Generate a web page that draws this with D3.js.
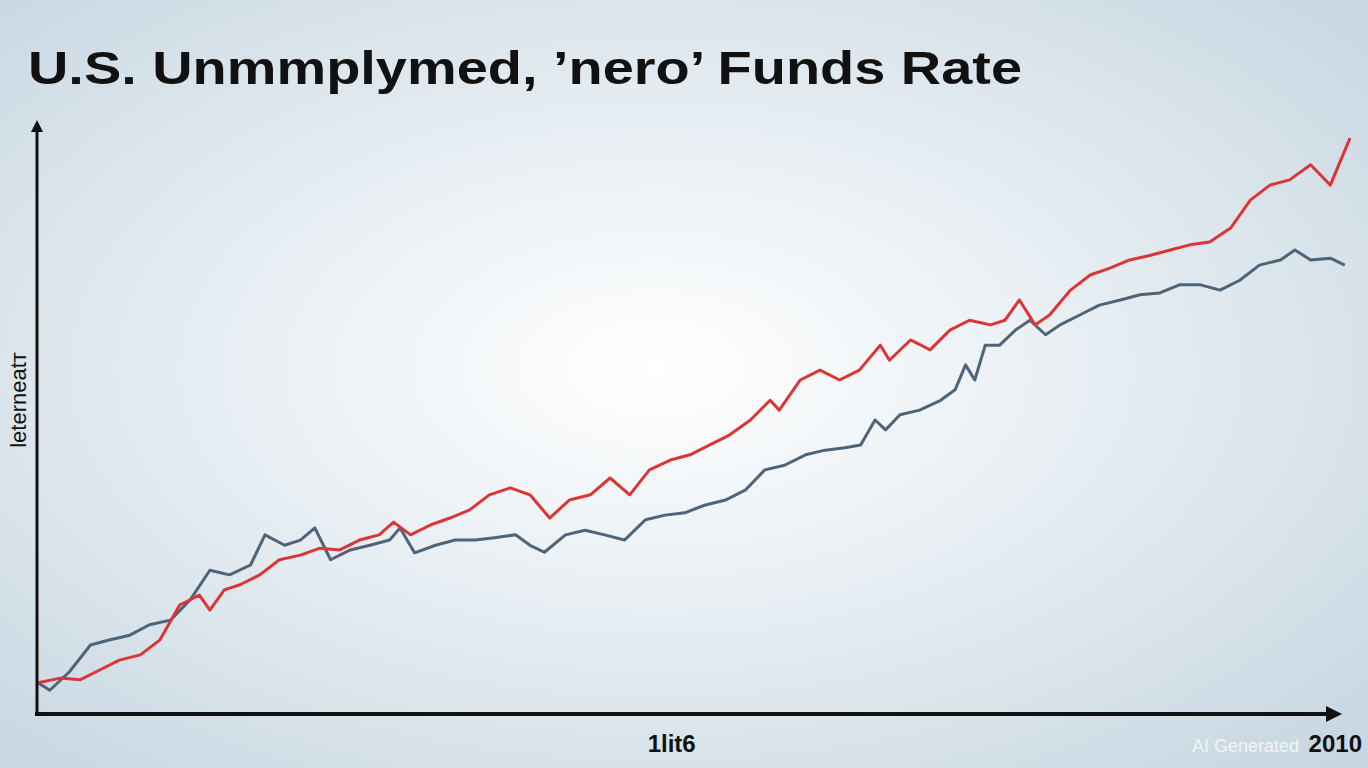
<!DOCTYPE html>
<html><head><meta charset="utf-8">
<script src="https://cdn.jsdelivr.net/npm/d3@7"></script>
<style>body{margin:0;overflow:hidden}</style>
</head><body>
<div id="chart"></div>
<script>
var width = 1368, height = 768;

// time index (0..100) and values (0..100)
var redT = [0,1.7,3.2,4.7,6.2,7.8,9.3,10.8,12.3,13.1,14.2,15.4,16.9,18.4,20,21.5,23,24.5,26,27.1,28.4,29.9,31.4,32.9,34.4,36,37.5,39,40.5,42.1,43.6,45.1,46.6,48.2,49.7,51.2,52.7,54.3,55.8,56.5,58.1,59.6,61.1,62.6,64.2,64.9,66.5,68,69.5,71,72.6,73.7,74.8,76,77.1,78.7,80.2,81.7,83.2,84.8,86.3,87.8,89.3,90.9,92.4,93.9,95.4,97,98.5,100];
var redV = [4.7,5.5,5.2,6.9,8.6,9.5,12.1,18.1,19.8,17.2,20.7,21.6,23.3,25.9,26.7,27.9,27.6,29.3,30.2,32.4,30.2,31.9,33.1,34.5,37.1,38.3,37.1,33.1,36.2,37.1,40,37.1,41.4,43.1,44,45.7,47.4,50,53.4,51.7,56.9,58.6,56.9,58.6,62.9,60.3,63.8,62.1,65.5,67.2,66.4,67.2,70.7,66.4,68.1,72.4,75,76.2,77.6,78.4,79.3,80.2,80.7,83.1,87.9,90.5,91.4,94,90.5,98.6];
var blueT = [0,0.9,2.4,4,5.5,7,8.5,10.1,11.6,13.1,14.6,16.2,17.3,18.8,20,21.1,22.3,23.8,25.3,26.8,27.6,28.7,30.3,31.8,33.3,34.8,36.4,37.5,38.6,40.2,41.7,43.2,44.7,46.3,47.8,49.3,50.8,52.4,53.9,55.4,56.9,58.5,60,61.5,62.7,63.8,64.6,65.7,67.2,68.8,69.9,70.7,71.4,72.2,73.3,74.5,75.6,76.8,77.9,79.4,80.9,82.5,84,85.5,87,88.6,90.1,91.6,93.1,94.7,95.8,97,98.5,99.6];
var blueV = [4.7,3.4,6.6,11.2,12.1,12.9,14.7,15.5,19,24.1,23.3,25,30.2,28.4,29.3,31.4,25.9,27.6,28.4,29.3,31.4,27.1,28.4,29.3,29.3,29.7,30.2,28.4,27.2,30.2,31,30.2,29.3,32.8,33.6,34,35.3,36.2,37.9,41.4,42.2,44,44.8,45.2,45.7,50,48.3,50.9,51.7,53.4,55.2,59.5,56.9,62.9,62.9,65.5,67.2,64.7,66.4,68.1,69.8,70.7,71.6,71.9,73.3,73.3,72.4,74.1,76.7,77.6,79.3,77.6,77.9,76.7];
var xTicks = [{t:48.3, label:"1lit6"}, {t:100, label:"2010"}];

var svg = d3.select("#chart").append("svg")
    .attr("width", width).attr("height", height);

var defs = svg.append("defs");
var grad = defs.append("radialGradient").attr("id", "bg")
    .attr("cx", "48%").attr("cy", "48%").attr("r", "75%");
grad.append("stop").attr("offset", "0%").attr("stop-color", "#ffffff");
grad.append("stop").attr("offset", "45%").attr("stop-color", "#e6edf2");
grad.append("stop").attr("offset", "100%").attr("stop-color", "#c4d4df");
var mk = defs.append("marker").attr("id", "arrow").attr("viewBox", "0 0 10 10")
    .attr("refX", 5).attr("refY", 5).attr("markerWidth", 4).attr("markerHeight", 4)
    .attr("orient", "auto");
mk.append("path").attr("d", "M0,0L10,5L0,10Z").attr("fill", "#111");

svg.append("rect").attr("width", width).attr("height", height).attr("fill", "url(#bg)");

var xScale = d3.scaleLinear().domain([0, 100]).range([38, 1350]);
var yScale = d3.scaleLinear().domain([0, 100]).range([710, 130]);

var line = d3.line()
    .x(function(d){ return xScale(d[0]); })
    .y(function(d){ return yScale(d[1]); });

svg.append("path").datum(d3.zip(blueT, blueV))
    .attr("d", line).attr("fill", "none")
    .attr("stroke", "#4d6479").attr("stroke-width", 3).attr("stroke-linejoin", "round");
svg.append("path").datum(d3.zip(redT, redV))
    .attr("d", line).attr("fill", "none")
    .attr("stroke", "#dc3535").attr("stroke-width", 3).attr("stroke-linejoin", "round");

// axes
svg.append("line").attr("x1", 35).attr("y1", 714).attr("x2", 1334).attr("y2", 714)
    .attr("stroke", "#111").attr("stroke-width", 4).attr("marker-end", "url(#arrow)");
svg.append("line").attr("x1", 37).attr("y1", 716).attr("x2", 37).attr("y2", 126)
    .attr("stroke", "#111").attr("stroke-width", 3).attr("marker-end", "url(#arrow)");

svg.selectAll("text.tick").data(xTicks).enter().append("text")
    .attr("class", "tick")
    .attr("x", function(d){ return d.t === 100 ? 1362 : xScale(d.t); })
    .attr("y", 752)
    .attr("text-anchor", function(d){ return d.t === 100 ? "end" : "middle"; })
    .attr("font-family", "Liberation Sans Narrow, Liberation Sans, sans-serif")
    .attr("font-weight", "bold").attr("font-size", 24).attr("fill", "#111")
    .text(function(d){ return d.label; });

svg.append("text").attr("x", 1192).attr("y", 752)
    .attr("font-family", "Liberation Sans, sans-serif").attr("font-size", 18)
    .attr("fill", "#fff").attr("fill-opacity", 0.75)
    .text("AI Generated");

svg.append("text")
    .attr("transform", "translate(26,400) rotate(-90)")
    .attr("text-anchor", "middle")
    .attr("font-family", "Liberation Sans, sans-serif").attr("font-size", 22).attr("fill", "#111")
    .text("leterneatт");

svg.append("text").attr("x", 28).attr("y", 84)
    .attr("font-family", "Liberation Sans, sans-serif").attr("font-weight", "bold")
    .attr("font-size", 46).attr("fill", "#111")
    .attr("textLength", 994).attr("lengthAdjust", "spacingAndGlyphs")
    .text("U.S. Unmmplymed, \u2019nero\u2019 Funds Rate");
</script>
</body></html>
